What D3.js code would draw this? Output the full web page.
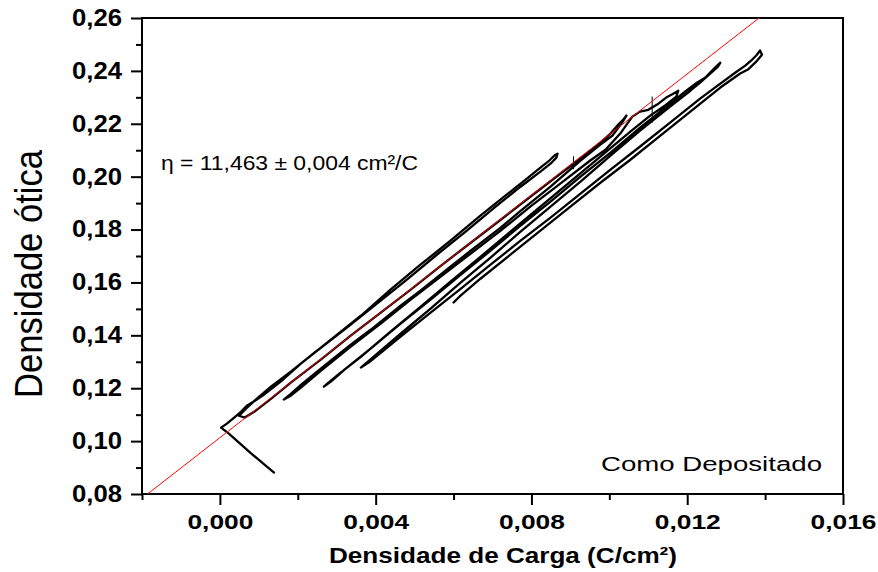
<!DOCTYPE html>
<html>
<head>
<meta charset="utf-8">
<script src="https://cdn.jsdelivr.net/npm/d3@7"></script>
<style>
  html, body { margin: 0; padding: 0; background: #fff; }
  svg { display: block; }
</style>
</head>
<body>
<svg id="chart" width="878" height="572"></svg>
<script>
// Axis ranges, ticks and their labels
const xDomain = [-0.002, 0.016];
const yDomain = [0.08, 0.26];
const xTicks = [0, 0.004, 0.008, 0.012, 0.016];
const xTickLabels = ["0,000", "0,004", "0,008", "0,012", "0,016"];
const xMinorTicks = [-0.002, 0.002, 0.006, 0.010, 0.014];
const yTicks = [0.08, 0.10, 0.12, 0.14, 0.16, 0.18, 0.20, 0.22, 0.24, 0.26];
const yTickLabels = ["0,08", "0,10", "0,12", "0,14", "0,16", "0,18", "0,20", "0,22", "0,24", "0,26"];
const yMinorTicks = [0.09, 0.11, 0.13, 0.15, 0.17, 0.19, 0.21, 0.23, 0.25];

// Linear fit: optical density = intercept + efficiency * charge density
const fitEfficiency = 11.463;
const fitIntercept = 0.1013;

// Recorded [charge density (C/cm²), optical density] sweeps, in recording order
const sweepStart = [[0.00139,0.0881],[0.00110,0.0917],[0.00080,0.0954],[0.00049,0.0994],[0.00023,0.1028],[0.00003,0.1051],[0.00018,0.1066],[0.00039,0.1092],[0.00054,0.1111],[0.00069,0.1134],[0.00090,0.1153],[0.00110,0.1172],[0.00156,0.1225],[0.00208,0.1293],[0.00285,0.1384],[0.00362,0.1474],[0.00438,0.1573],[0.00515,0.1667],[0.00592,0.1758],[0.00669,0.1853],[0.00733,0.1928],[0.00785,0.1989],[0.00823,0.2034],[0.00846,0.2061],[0.00859,0.2080],[0.00867,0.2087]];
const sweepBack1 = [[0.00864,0.2072],[0.00849,0.2049],[0.00823,0.2019],[0.00772,0.1962],[0.00708,0.1887],[0.00631,0.1792],[0.00554,0.1701],[0.00477,0.1607],[0.00400,0.1516],[0.00323,0.1425],[0.00246,0.1338],[0.00182,0.1263],[0.00131,0.1206],[0.00092,0.1157],[0.00067,0.1123],[0.00049,0.1096]];
const sweepUp2 = [[0.00064,0.1089],[0.00092,0.1115],[0.00131,0.1160],[0.00182,0.1221],[0.00259,0.1308],[0.00336,0.1399],[0.00413,0.1486],[0.00490,0.1573],[0.00567,0.1663],[0.00644,0.1750],[0.00721,0.1837],[0.00797,0.1924],[0.00874,0.2011],[0.00938,0.2083],[0.00977,0.2129],[0.01003,0.2163],[0.01023,0.2197],[0.01036,0.2216],[0.01044,0.2231]];
const sweepBack2 = [[0.01031,0.2201],[0.01008,0.2155],[0.00977,0.2121],[0.00926,0.2061],[0.00849,0.1962],[0.00772,0.1871],[0.00721,0.1807],[0.00644,0.1720],[0.00592,0.1660],[0.00515,0.1569],[0.00464,0.1512],[0.00387,0.1421],[0.00336,0.1365],[0.00259,0.1274],[0.00208,0.1213],[0.00182,0.1179],[0.00164,0.1157]];
const sweepUp3 = [[0.00182,0.1172],[0.00208,0.1202],[0.00259,0.1266],[0.00336,0.1357],[0.00413,0.1444],[0.00490,0.1535],[0.00567,0.1622],[0.00644,0.1709],[0.00721,0.1796],[0.00797,0.1887],[0.00874,0.1974],[0.00951,0.2061],[0.00990,0.2102],[0.01028,0.2163],[0.01059,0.2227],[0.01079,0.2246],[0.01100,0.2253],[0.01126,0.2276],[0.01146,0.2299],[0.01164,0.2314],[0.01177,0.2325]];
const sweepBack3 = [[0.01172,0.2303],[0.01146,0.2272],[0.01105,0.2231],[0.01054,0.2170],[0.00977,0.2076],[0.00900,0.1981],[0.00823,0.1887],[0.00746,0.1792],[0.00669,0.1697],[0.00592,0.1603],[0.00515,0.1508],[0.00438,0.1414],[0.00362,0.1319],[0.00310,0.1259],[0.00285,0.1229],[0.00267,0.1206]];
const sweepUp4 = [[0.00285,0.1225],[0.00323,0.1274],[0.00387,0.1350],[0.00464,0.1444],[0.00541,0.1535],[0.00618,0.1629],[0.00695,0.1720],[0.00772,0.1815],[0.00849,0.1906],[0.00926,0.2000],[0.01003,0.2091],[0.01079,0.2185],[0.01144,0.2261],[0.01195,0.2322],[0.01226,0.2356],[0.01246,0.2374],[0.01264,0.2401],[0.01277,0.2420],[0.01285,0.2431]];
const sweepBack4 = [[0.01279,0.2416],[0.01259,0.2390],[0.01233,0.2356],[0.01208,0.2325],[0.01156,0.2265],[0.01079,0.2174],[0.01003,0.2080],[0.00926,0.1981],[0.00849,0.1887],[0.00772,0.1792],[0.00695,0.1694],[0.00618,0.1599],[0.00541,0.1501],[0.00464,0.1406],[0.00413,0.1342],[0.00374,0.1293],[0.00362,0.1278]];
const sweepUp5 = [[0.00382,0.1297],[0.00413,0.1334],[0.00464,0.1395],[0.00541,0.1486],[0.00618,0.1576],[0.00695,0.1667],[0.00772,0.1758],[0.00849,0.1845],[0.00926,0.1936],[0.01003,0.2027],[0.01079,0.2114],[0.01156,0.2204],[0.01233,0.2295],[0.01285,0.2352],[0.01323,0.2393],[0.01349,0.2420],[0.01367,0.2443],[0.01379,0.2461],[0.01387,0.2477]];
const sweepBack5 = [[0.01392,0.2461],[0.01377,0.2435],[0.01356,0.2405],[0.01336,0.2390],[0.01285,0.2337],[0.01208,0.2246],[0.01131,0.2155],[0.01054,0.2064],[0.00977,0.1977],[0.00900,0.1887],[0.00823,0.1796],[0.00746,0.1705],[0.00669,0.1614],[0.00618,0.1550],[0.00600,0.1524]];

// Short vertical event marks on the trace
const markCharge = [0.00908, 0.01110];
const markLow = [0.2028, 0.2204];
const markHigh = [0.2077, 0.2303];

const annotationText = "η = 11,463 ± 0,004 cm²/C";
const sampleLabel = "Como Depositado";
const xTitle = "Densidade de Carga (C/cm²)";
const yTitle = "Densidade ótica";

const svg = d3.select("#chart");
const plot = { left: 142, right: 843, top: 18, bottom: 494 };

const x = d3.scaleLinear().domain(xDomain).range([plot.left, plot.right]);
const y = d3.scaleLinear().domain(yDomain).range([plot.bottom, plot.top]);

svg.append("defs").append("clipPath").attr("id", "plotClip")
  .append("rect")
  .attr("x", plot.left).attr("y", plot.top)
  .attr("width", plot.right - plot.left).attr("height", plot.bottom - plot.top);

// Minor ticks
svg.append("g")
  .attr("transform", `translate(0,${plot.bottom})`)
  .call(d3.axisBottom(x).tickValues(xMinorTicks).tickSize(6).tickFormat(""))
  .call(g => g.select(".domain").remove());
svg.append("g")
  .attr("transform", `translate(${plot.left},0)`)
  .call(d3.axisLeft(y).tickValues(yMinorTicks).tickSize(6).tickFormat(""))
  .call(g => g.select(".domain").remove());

// Major ticks with labels
const xAxis = svg.append("g")
  .attr("transform", `translate(0,${plot.bottom})`)
  .call(d3.axisBottom(x).tickValues(xTicks).tickSize(11).tickPadding(9)
    .tickFormat((d, i) => xTickLabels[i]))
  .call(g => g.select(".domain").remove());
xAxis.selectAll("text")
  .attr("font-family", "'Liberation Sans', Arial, sans-serif")
  .attr("font-weight", "bold")
  .attr("font-size", 21)
  .attr("fill", "#000")
  .attr("textLength", 66)
  .attr("lengthAdjust", "spacingAndGlyphs");

const yAxis = svg.append("g")
  .attr("transform", `translate(${plot.left},0)`)
  .call(d3.axisLeft(y).tickValues(yTicks).tickSize(11).tickPadding(9)
    .tickFormat((d, i) => yTickLabels[i]))
  .call(g => g.select(".domain").remove());
yAxis.selectAll("text")
  .attr("font-family", "'Liberation Sans', Arial, sans-serif")
  .attr("font-weight", "bold")
  .attr("font-size", 23)
  .attr("fill", "#000")
  .attr("textLength", 50)
  .attr("lengthAdjust", "spacingAndGlyphs");

svg.selectAll(".tick line").attr("stroke", "#000").attr("stroke-width", 2);

// Frame
svg.append("rect")
  .attr("x", plot.left).attr("y", plot.top)
  .attr("width", plot.right - plot.left).attr("height", plot.bottom - plot.top)
  .attr("fill", "none").attr("stroke", "#000").attr("stroke-width", 2);

// Measured trace
const trace = [].concat(sweepStart, sweepBack1, sweepUp2, sweepBack2, sweepUp3,
  sweepBack3, sweepUp4, sweepBack4, sweepUp5, sweepBack5);
const line = d3.line().x(d => x(d[0])).y(d => y(d[1])).curve(d3.curveLinear);

const marks = svg.append("g").attr("clip-path", "url(#plotClip)");
marks.append("path")
  .attr("d", line(trace))
  .attr("fill", "none")
  .attr("stroke", "#000")
  .attr("stroke-width", 2.3)
  .attr("stroke-linejoin", "round")
  .attr("stroke-linecap", "round");

marks.selectAll("line.event")
  .data(markCharge)
  .join("line")
  .attr("class", "event")
  .attr("x1", d => x(d)).attr("x2", d => x(d))
  .attr("y1", (d, i) => y(markLow[i])).attr("y2", (d, i) => y(markHigh[i]))
  .attr("stroke", "#000").attr("stroke-width", 1);

// Fit line across the full x range
marks.append("line")
  .attr("x1", x(xDomain[0])).attr("y1", y(fitIntercept + fitEfficiency * xDomain[0]))
  .attr("x2", x(xDomain[1])).attr("y2", y(fitIntercept + fitEfficiency * xDomain[1]))
  .attr("stroke", "#ff0000").attr("stroke-width", 1);

// Annotations
svg.append("text")
  .attr("x", 161).attr("y", 170)
  .attr("font-family", "'Liberation Sans', Arial, sans-serif")
  .attr("font-size", 20).attr("fill", "#000")
  .attr("textLength", 257).attr("lengthAdjust", "spacingAndGlyphs")
  .text(annotationText);

svg.append("text")
  .attr("x", 601).attr("y", 471)
  .attr("font-family", "'Liberation Sans', Arial, sans-serif")
  .attr("font-size", 20).attr("fill", "#000")
  .attr("textLength", 221).attr("lengthAdjust", "spacingAndGlyphs")
  .text(sampleLabel);

// Axis titles
svg.append("text")
  .attr("x", 503).attr("y", 563)
  .attr("text-anchor", "middle")
  .attr("font-family", "'Liberation Sans', Arial, sans-serif")
  .attr("font-weight", "bold")
  .attr("font-size", 22).attr("fill", "#000")
  .attr("textLength", 348).attr("lengthAdjust", "spacingAndGlyphs")
  .text(xTitle);

svg.append("text")
  .attr("transform", "translate(42,274) rotate(-90)")
  .attr("text-anchor", "middle")
  .attr("font-family", "'Liberation Sans', Arial, sans-serif")
  .attr("font-size", 39).attr("fill", "#000")
  .attr("textLength", 248).attr("lengthAdjust", "spacingAndGlyphs")
  .text(yTitle);
</script>
</body>
</html>
